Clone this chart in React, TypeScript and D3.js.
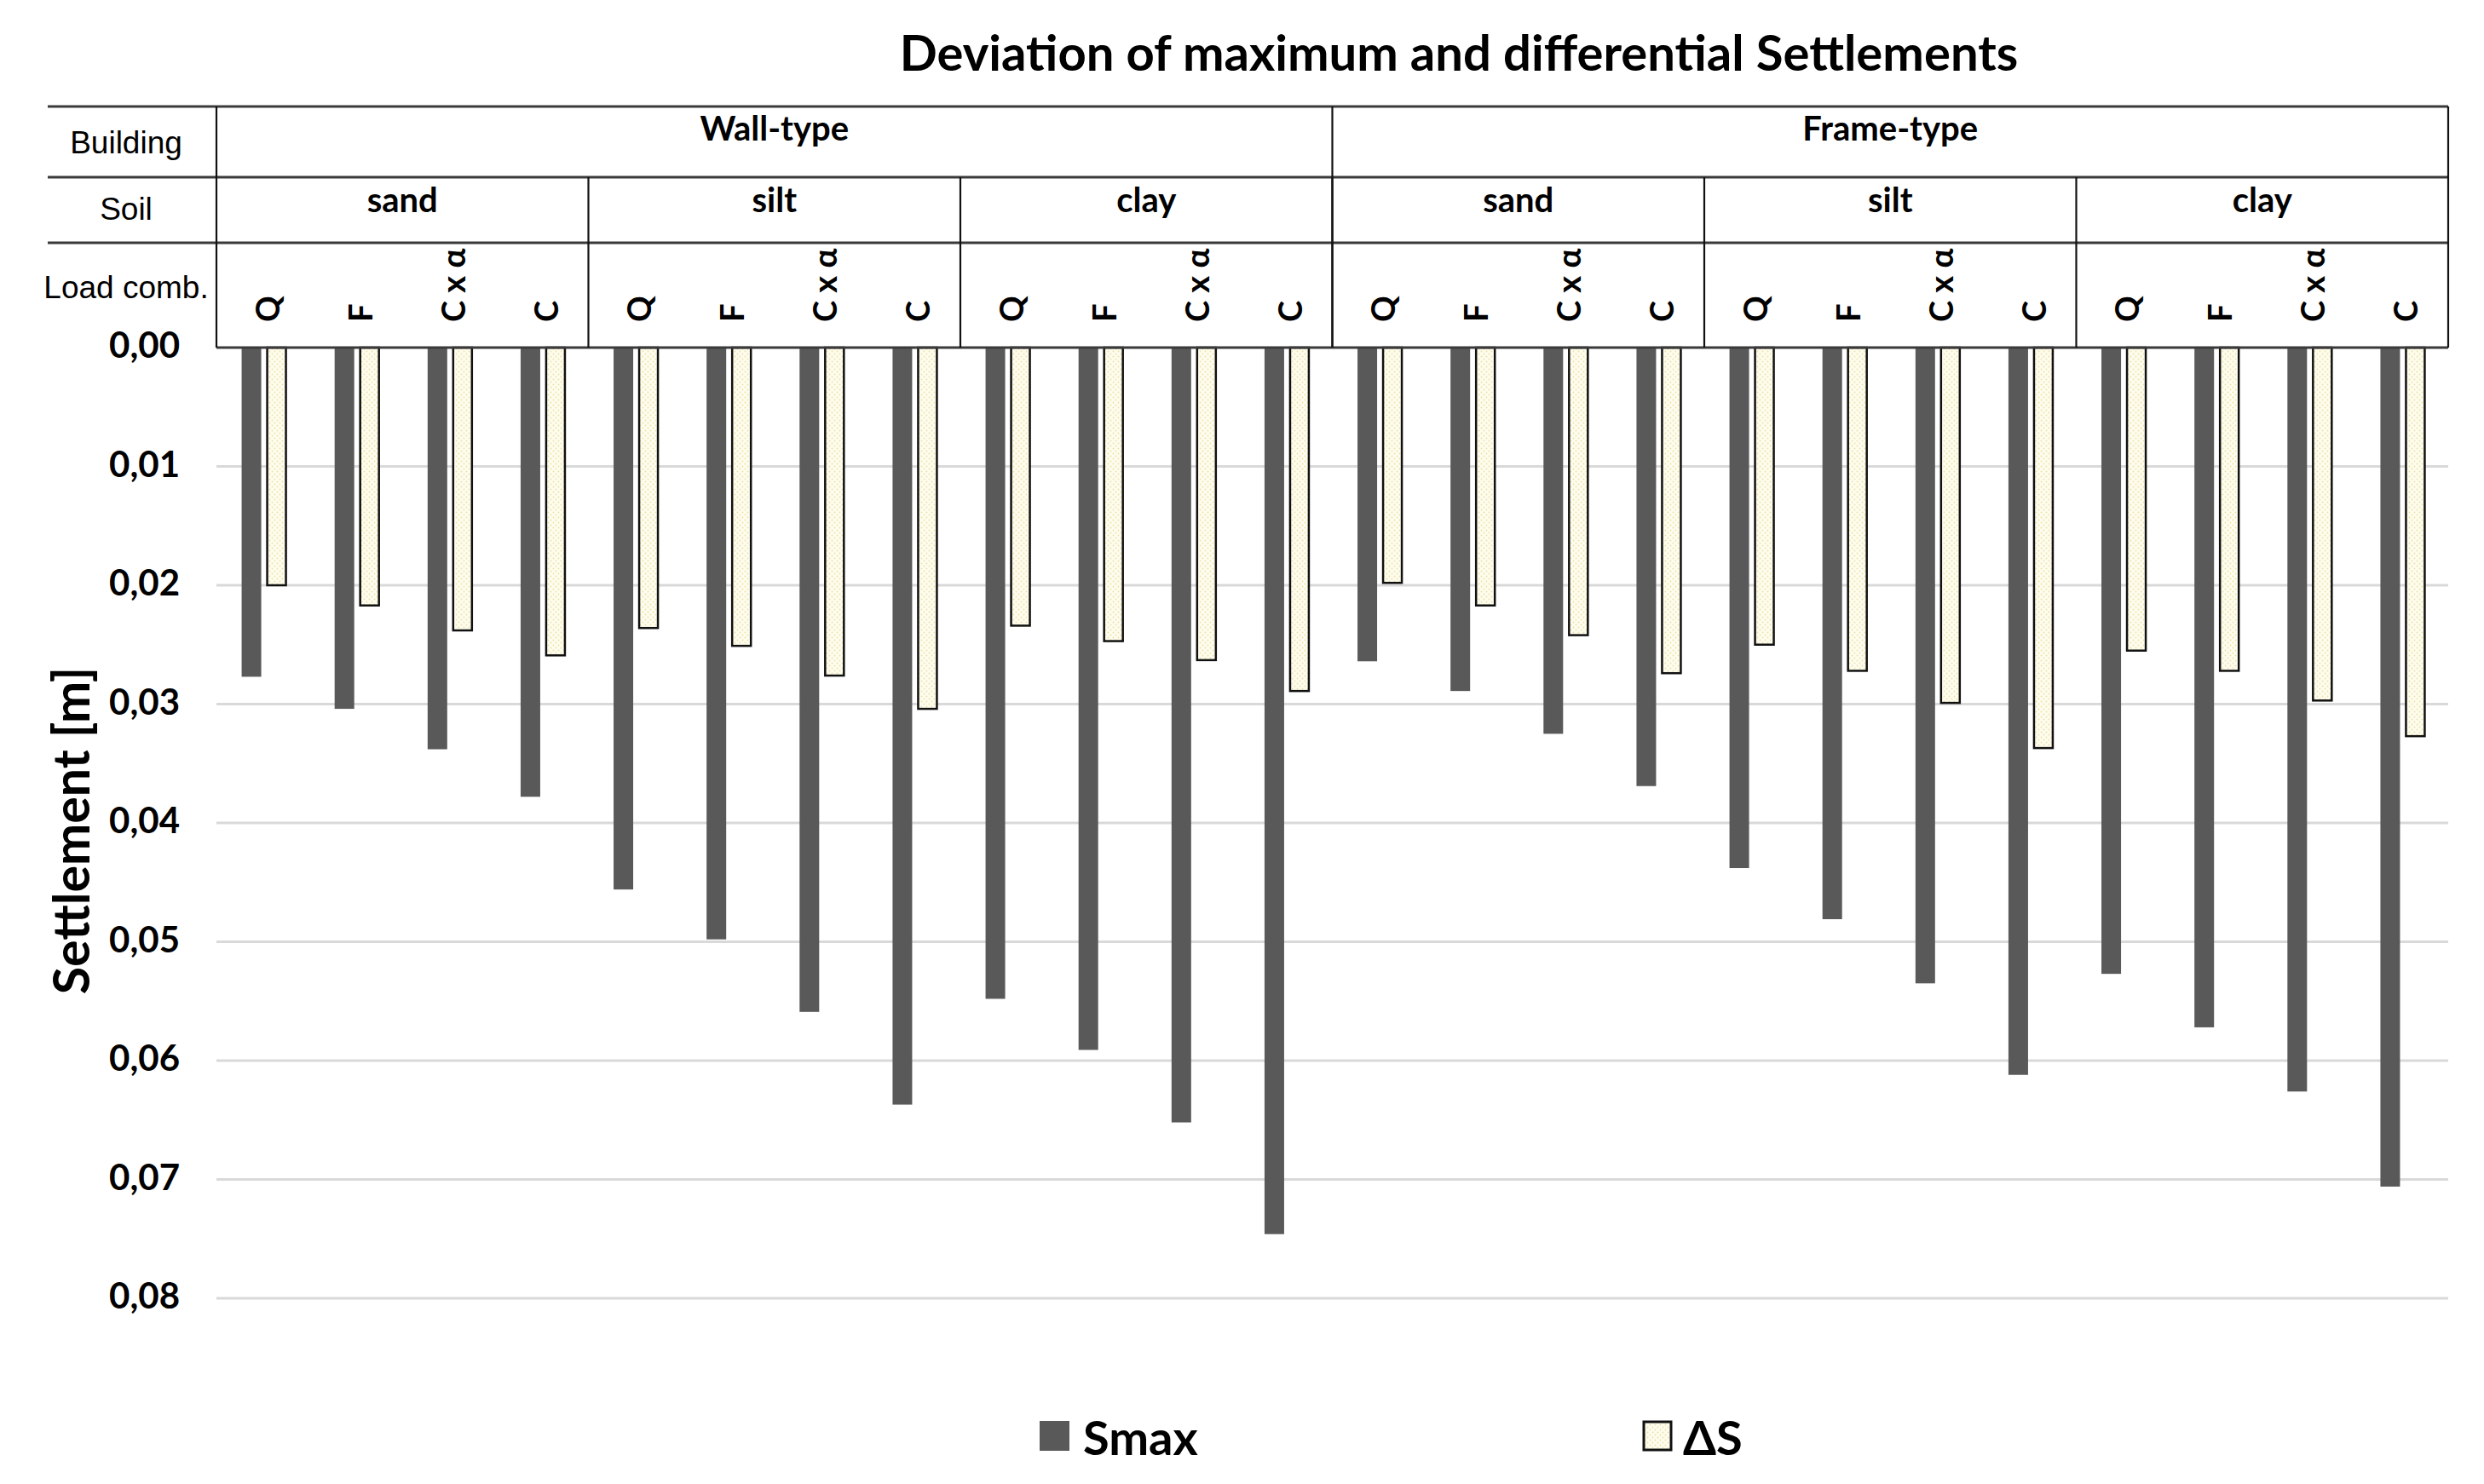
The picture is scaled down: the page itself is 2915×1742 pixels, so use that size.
import React, { useEffect } from 'react';
import * as d3 from 'd3';

// --- data ---
const buildings = ['Wall-type', 'Frame-type'];
const soils = ['sand', 'silt', 'clay'];
const loads = ['Q', 'F', 'C x α', 'C'];

// Smax, one value per building / soil / load combination
const smax = [
  0.0277, 0.0304, 0.0338, 0.0378,
  0.0456, 0.0498, 0.0559, 0.0637,
  0.0548, 0.0591, 0.0652, 0.0746,
  0.0264, 0.0289, 0.0325, 0.0369,
  0.0438, 0.0481, 0.0535, 0.0612,
  0.0527, 0.0572, 0.0626, 0.0706,
];

// differential settlement
const deltaS = [
  0.0200, 0.0217, 0.0238, 0.0259,
  0.0236, 0.0251, 0.0276, 0.0304,
  0.0234, 0.0247, 0.0263, 0.0289,
  0.0198, 0.0217, 0.0242, 0.0274,
  0.0250, 0.0272, 0.0299, 0.0337,
  0.0255, 0.0272, 0.0297, 0.0327,
];

const yTicks = [0, 0.01, 0.02, 0.03, 0.04, 0.05, 0.06, 0.07, 0.08];
const rowLabels = ['Building', 'Soil', 'Load comb.'];

const W = 2915;
const H = 1742;
const BOLD = 'Lato, "Open Sans", sans-serif';
const ARIAL = '"Liberation Sans", Arial, sans-serif';

const App: React.FC = () => {
  useEffect(() => {
    document.body.style.margin = '0';
  }, []);

  const cats = d3.range(smax.length).map(String);
  const x = d3.scaleBand<string>().domain(cats).range([254, 2873]).padding(0);
  const y = d3.scaleLinear().domain([0, 0.08]).range([408, 1524]);
  const fmt = (v: number) => d3.format('.2f')(v).replace('.', ',');

  const barW = 23;
  const gap = 6;
  const bw = x.bandwidth();

  const rows = [125, 208, 285, 408];
  const perBuilding = soils.length * loads.length;
  const soilEdges = d3.range(1, buildings.length * soils.length).map(i => x(String(i * loads.length))!);
  const buildingEdges = d3.range(1, buildings.length).map(i => x(String(i * perBuilding))!);

  return (
    <svg width={W} height={H} style={{ display: 'block', background: '#fff' }}>
      <defs>
        <pattern id="dots" width="6" height="6" patternUnits="userSpaceOnUse">
          <rect width="6" height="6" fill="#fefcee" />
          <circle cx="1.5" cy="1.5" r="0.9" fill="#ece2a6" />
          <circle cx="4.5" cy="4.5" r="0.9" fill="#ece2a6" />
        </pattern>
      </defs>

      {/* title */}
      <text x={1712} y={83} textAnchor="middle" fontFamily={BOLD} fontWeight={700} fontSize={58} fill="#000">
        Deviation of maximum and differential Settlements
      </text>

      {/* gridlines */}
      {yTicks.slice(1).map(t => (
        <line key={t} x1={254} x2={2873} y1={y(t)} y2={y(t)} stroke="#d9d9d9" strokeWidth={3} />
      ))}

      {/* y tick labels */}
      {yTicks.map(t => (
        <text key={t} x={211} y={y(t) - 4} textAnchor="end" dominantBaseline="central"
          fontFamily={BOLD} fontWeight={700} fontSize={42} fill="#000">
          {fmt(t)}
        </text>
      ))}

      {/* y title */}
      <text transform="translate(82, 975) rotate(-90)" textAnchor="middle" dominantBaseline="central"
        fontFamily={BOLD} fontWeight={700} fontSize={59} fill="#000">
        Settlement [m]
      </text>

      {/* bars */}
      {cats.map((c, i) => {
        const cx = x(c)! + bw / 2 + 1;
        return (
          <g key={c}>
            <rect x={cx - gap / 2 - barW} y={y(0)} width={barW} height={y(smax[i]) - y(0)} fill="#595959" />
            <rect x={cx + gap / 2 + 1} y={y(0)} width={barW - 1} height={y(deltaS[i]) - y(0)}
              fill="url(#dots)" stroke="#111" strokeWidth={2.5} />
          </g>
        );
      })}

      {/* header table */}
      <g stroke="#3a3a3a" strokeWidth={3}>
        {rows.slice(0, 3).map(r => (
          <line key={r} x1={56} x2={2873} y1={r} y2={r} />
        ))}
        <line x1={254} x2={2873} y1={rows[3]} y2={rows[3]} />
      </g>
      <g stroke="#111" strokeWidth={2.2}>
        <line x1={254} x2={254} y1={rows[0]} y2={rows[3]} />
        <line x1={2873} x2={2873} y1={rows[0]} y2={rows[3]} />
        {buildingEdges.map(e => (
          <line key={'b' + e} x1={e} x2={e} y1={rows[0]} y2={rows[3]} />
        ))}
        {soilEdges.map(e => (
          <line key={'s' + e} x1={e} x2={e} y1={rows[1]} y2={rows[3]} />
        ))}
      </g>

      {/* row labels */}
      {rowLabels.map((l, i) => (
        <text key={l} x={148} y={[180, 258, 350][i]} textAnchor="middle" fontFamily={ARIAL} fontSize={37} fill="#000">
          {l}
        </text>
      ))}

      {/* building labels */}
      {buildings.map((b, i) => {
        const x0 = x(String(i * perBuilding))!;
        const x1 = x(String((i + 1) * perBuilding - 1))! + bw;
        return (
          <text key={b} x={(x0 + x1) / 2} y={165} textAnchor="middle" fontFamily={BOLD} fontWeight={700} fontSize={40} fill="#000">
            {b}
          </text>
        );
      })}

      {/* soil labels */}
      {d3.range(buildings.length * soils.length).map(k => {
        const x0 = x(String(k * loads.length))!;
        const x1 = x(String((k + 1) * loads.length - 1))! + bw;
        return (
          <text key={k} x={(x0 + x1) / 2} y={249} textAnchor="middle" fontFamily={BOLD} fontWeight={700} fontSize={40} fill="#000">
            {soils[k % soils.length]}
          </text>
        );
      })}

      {/* load combination labels */}
      {cats.map((c, i) => (
        <text key={c} transform={`translate(${x(c)! + bw / 2 + 4}, 378) rotate(-90)`} textAnchor="start"
          dominantBaseline="central" fontFamily={BOLD} fontWeight={700} fontSize={38} fill="#000">
          {loads[i % loads.length]}
        </text>
      ))}

      {/* legend */}
      <rect x={1220} y={1668} width={35} height={35} fill="#595959" />
      <text x={1271} y={1708} fontFamily={BOLD} fontWeight={700} fontSize={56} fill="#000">Smax</text>
      <rect x={1929} y={1669} width={32} height={33} fill="url(#dots)" stroke="#111" strokeWidth={3} />
      <text x={1975} y={1708} fontFamily={BOLD} fontWeight={700} fontSize={56} fill="#000">ΔS</text>
    </svg>
  );
};

export default App;
